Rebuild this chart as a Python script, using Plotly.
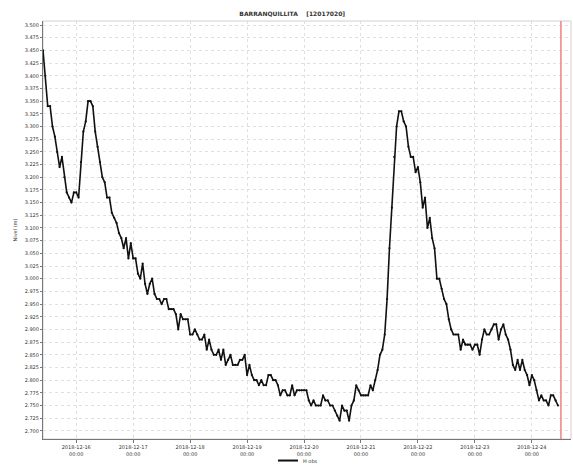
import pandas as pd
import plotly.graph_objects as go

# hourly water level readings, starting 2018-12-15 10:00
start = "2018-12-15 10:00"
day1 = [3.45, 3.40, 3.34, 3.34, 3.30, 3.28, 3.25, 3.22, 3.24, 3.20, 3.17, 3.16, 3.15, 3.17]
day2 = [3.17, 3.16, 3.23, 3.29, 3.31, 3.35, 3.35, 3.34, 3.29, 3.26, 3.23, 3.20,
        3.19, 3.16, 3.16, 3.13, 3.12, 3.11, 3.09, 3.08, 3.06, 3.08, 3.04, 3.07]
day3 = [3.04, 3.04, 3.01, 3.00, 3.03, 2.99, 2.97, 2.99, 3.00, 2.97, 2.96, 2.96,
        2.95, 2.96, 2.96, 2.94, 2.94, 2.94, 2.93, 2.90, 2.93, 2.92, 2.92, 2.92]
day4 = [2.89, 2.89, 2.90, 2.89, 2.88, 2.88, 2.89, 2.86, 2.88, 2.86, 2.85, 2.85,
        2.86, 2.84, 2.86, 2.83, 2.84, 2.85, 2.83, 2.83, 2.83, 2.84, 2.84, 2.85]
day5 = [2.81, 2.83, 2.81, 2.80, 2.80, 2.79, 2.80, 2.79, 2.79, 2.81, 2.81, 2.80,
        2.80, 2.79, 2.77, 2.78, 2.78, 2.77, 2.77, 2.79, 2.77, 2.78, 2.78, 2.78]
day6 = [2.78, 2.78, 2.76, 2.75, 2.76, 2.75, 2.75, 2.75, 2.77, 2.76, 2.76, 2.75,
        2.75, 2.74, 2.73, 2.72, 2.75, 2.74, 2.74, 2.72, 2.75, 2.76, 2.79, 2.78]
day7 = [2.77, 2.77, 2.77, 2.77, 2.79, 2.78, 2.80, 2.82, 2.85, 2.86, 2.89, 2.96,
        3.06, 3.14, 3.24, 3.30, 3.33, 3.33, 3.31, 3.30, 3.26, 3.24, 3.24, 3.21]
day8 = [3.22, 3.19, 3.14, 3.16, 3.10, 3.12, 3.08, 3.06, 3.00, 3.00, 2.98, 2.96,
        2.95, 2.92, 2.90, 2.89, 2.89, 2.89, 2.86, 2.88, 2.87, 2.87, 2.87, 2.86]
day9 = [2.87, 2.87, 2.85, 2.88, 2.90, 2.89, 2.89, 2.90, 2.91, 2.91, 2.88, 2.90,
        2.91, 2.89, 2.88, 2.86, 2.83, 2.82, 2.84, 2.82, 2.84, 2.82, 2.81, 2.79]
day10 = [2.81, 2.80, 2.78, 2.76, 2.77, 2.76, 2.76, 2.75, 2.77, 2.77, 2.76, 2.75]

nivel = day1 + day2 + day3 + day4 + day5 + day6 + day7 + day8 + day9 + day10
fechas = pd.date_range(start, periods=len(nivel), freq="h")
ahora = "2018-12-24 12:15"
serie = "H obs"

fig = go.Figure()
fig.add_trace(go.Scatter(
    x=fechas, y=nivel, mode="lines+markers", name=serie,
    line=dict(color="#111111", width=1.6),
    marker=dict(size=2.2, color="#111111"),
))

fig.add_shape(type="rect", xref="paper", yref="paper", x0=0, x1=1, y0=0, y1=1,
              line=dict(color="#d0d0d0", width=1), layer="below")
fig.add_shape(type="line", xref="x", yref="paper", x0=ahora, x1=ahora, y0=0, y1=1,
              line=dict(color="#f28a8a", width=1.6), layer="above")

# small legend drawn by hand just under the tick labels
fig.add_shape(type="line", xref="paper", yref="paper", x0=0.445, x1=0.483,
              y0=-0.0515, y1=-0.0515, line=dict(color="#111111", width=2))
fig.add_annotation(text=serie, xref="paper", yref="paper", x=0.488, y=-0.0515,
                   xanchor="left", yanchor="middle", showarrow=False,
                   font=dict(size=5, color="#333333"))

fig.update_layout(
    width=573, height=465,
    margin=dict(l=43, r=2, t=21, b=26, autoexpand=False),
    paper_bgcolor="white", plot_bgcolor="white",
    font=dict(family="DejaVu Sans", size=5, color="#333333"),
    title=dict(text="<b>BARRANQUILLITA    [12017020]</b>", x=0.51, xanchor="center",
               y=0.97, yanchor="middle", font=dict(size=6, color="#333333")),
    showlegend=False,
    xaxis=dict(
        range=["2018-12-15 10:00", "2018-12-24 16:30"], automargin=False,
        dtick=86400000, tick0="2018-12-16", tickformat="%Y-%m-%d<br>%H:%M",
        showgrid=True, gridcolor="#e0e0e0", griddash="dot", gridwidth=1,
        showline=True, linecolor="#777777", linewidth=1,
        ticks="outside", ticklen=3, tickcolor="#777777", zeroline=False,
    ),
    yaxis=dict(
        range=[2.684, 3.508], dtick=0.025, tick0=2.7, tickformat=".3f", automargin=False,
        title=dict(text="Nivel (m)", standoff=6, font=dict(size=5)),
        showgrid=True, gridcolor="#e0e0e0", griddash="dot", gridwidth=1,
        showline=True, linecolor="#777777", linewidth=1,
        ticks="outside", ticklen=2, tickcolor="#777777", zeroline=False,
    ),
)

fig.write_html("out.html", config={"displayModeBar": False},
               post_script="document.body.style.margin='0';")
